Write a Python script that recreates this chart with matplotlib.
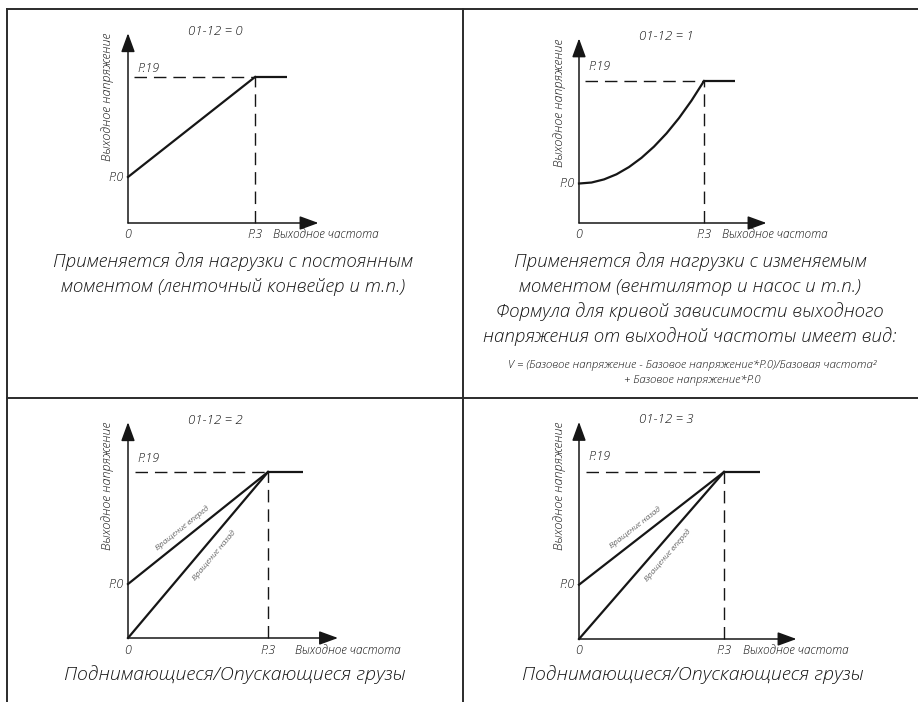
import matplotlib.pyplot as plt
from matplotlib.lines import Line2D

W, H = 918, 702

# values are normalised: frequency in units of P.3, voltage in units of P.19
titles = ['01-12 = 0', '01-12 = 1', '01-12 = 2', '01-12 = 3']
p0_levels = [0.315, 0.278, 0.325, 0.325]

# mode 1: square-law curve
sq_f = [0.0, 0.1, 0.2, 0.3, 0.4, 0.5, 0.6, 0.7, 0.8, 0.9, 1.0]
sq_v = [0.278, 0.285, 0.307, 0.343, 0.394, 0.459, 0.538, 0.631, 0.739, 0.862, 1.0]

# modes 2 and 3: labels on (boosted line, line through zero)
rot_labels = [None, None,
              ('Вращение вперед', 'Вращение назад'),
              ('Вращение назад', 'Вращение вперед')]

y_label = 'Выходное напряжение'
x_label = 'Выходное частота'

captions = [
    ['Применяется для нагрузки с постоянным',
     'моментом (ленточный конвейер и т.п.)'],
    ['Применяется для нагрузки с изменяемым',
     'моментом (вентилятор и насос и т.п.)',
     'Формула для кривой зависимости выходного',
     'напряжения от выходной частоты имеет вид:'],
    ['Поднимающиеся/Опускающиеся грузы'],
    ['Поднимающиеся/Опускающиеся грузы'],
]
formula = ['V = (Базовое напряжение - Базовое напряжение*P.0)/Базовая частота²',
           '+ Базовое напряжение*P.0']

# layout (pixels): axis origin and the (P.3, P.19) corner of every panel
origins = [(128, 223), (579, 223), (128, 638), (579, 639)]
corners = [(255, 77), (704, 81), (268, 472), (724, 472)]
caption_pos = [(233, 262), (690, 262), (235, 675), (693, 675)]
caption_size = [13.5, 13.5, 14, 14]
xlabel_gap = [18, 18, 27, 19]
p19_dy = [8, 15, 14, 15]

FONT = ['Open Sans', 'DejaVu Sans']
plt.rcParams['font.family'] = FONT
TXT = dict(style='italic', fontweight='light', color='#151515')
INK = '#161616'

fig = plt.figure(figsize=(W / 100, H / 100), dpi=100)

# frame lines
frame = [((7, 918), (9, 9)), ((7, 7), (9, 702)), ((463, 463), (9, 702)), ((7, 918), (398, 398))]
for xs, ys in frame:
    fig.add_artist(Line2D([x / W for x in xs], [1 - y / H for y in ys],
                          color='#2b2b2b', lw=1.4))

arrow = dict(arrowstyle='-|>,head_length=1.15,head_width=0.42', color=INK, lw=1.1,
             shrinkA=0, shrinkB=0, mutation_scale=10)

for i in range(4):
    (x0, y0), (x1, y1) = origins[i], corners[i]
    ax = fig.add_axes([x0 / W, 1 - y0 / H, (x1 - x0) / W, (y0 - y1) / H])
    ax.set_xlim(0, 1)
    ax.set_ylim(0, 1)
    ax.axis('off')
    p0 = p0_levels[i]

    # axes with arrows
    ax.annotate('', xy=(1.5, 0), xytext=(0, 0), arrowprops=arrow, annotation_clip=False)
    ax.annotate('', xy=(0, 1.3), xytext=(0, 0), arrowprops=arrow, annotation_clip=False)

    # dashed guides
    ax.plot([0.05, 1], [1, 1], color=INK, lw=1.0, ls=(0, (9, 5)), clip_on=False)
    ax.plot([1, 1], [0, 1], color=INK, lw=1.0, ls=(0, (9, 5)), clip_on=False)

    # characteristic
    ax.plot([1, 1.25], [1, 1], color=INK, lw=1.6, clip_on=False, solid_capstyle='butt')
    if i == 1:
        ax.plot(sq_f, sq_v, color=INK, lw=1.6, clip_on=False)
    else:
        ax.plot([0, 1], [p0, 1], color=INK, lw=1.6, clip_on=False)
    if i >= 2:
        ax.plot([0, 1], [0, 1], color=INK, lw=1.6, clip_on=False)
        up, low = rot_labels[i]
        ax.text(0.39, 0.665, up, rotation=34, transform_rotates_text=True,
                rotation_mode='anchor', ha='center', va='center', fontsize=6, **TXT)
        ax.text(0.615, 0.50, low, rotation=45, transform_rotates_text=True,
                rotation_mode='anchor', ha='center', va='center', fontsize=6, **TXT)

    # labels
    ax.annotate(titles[i], xy=(0, 1.3), xytext=(87, 2), textcoords='offset pixels',
                ha='center', va='center', fontsize=9.5, annotation_clip=False, **TXT)
    ax.annotate(y_label, xy=(0, 1.3), xytext=(-20, 0), textcoords='offset pixels',
                rotation=90, ha='center', va='top', fontsize=9, annotation_clip=False, **TXT)
    ax.annotate('P.19', xy=(0, 1), xytext=(9, p19_dy[i]), textcoords='offset pixels',
                ha='left', va='center', fontsize=9, annotation_clip=False, **TXT)
    ax.annotate('P.0', xy=(0, p0), xytext=(-4, 0), textcoords='offset pixels',
                ha='right', va='center', fontsize=9, annotation_clip=False, **TXT)
    ax.annotate('0', xy=(0, 0), xytext=(0, -12), textcoords='offset pixels',
                ha='center', va='center', fontsize=9, annotation_clip=False, **TXT)
    ax.annotate('P.3', xy=(1, 0), xytext=(0, -12), textcoords='offset pixels',
                ha='center', va='center', fontsize=9, annotation_clip=False, **TXT)
    ax.annotate(x_label, xy=(1, 0), xytext=(xlabel_gap[i], -12), textcoords='offset pixels',
                ha='left', va='center', fontsize=8.5, annotation_clip=False, **TXT)

    # caption under the panel
    cx, cy = caption_pos[i]
    for k, line in enumerate(captions[i]):
        fig.text(cx / W, 1 - (cy + 25 * k) / H, line, ha='center', va='center',
                 fontsize=caption_size[i], **TXT)

for k, line in enumerate(formula):
    fig.text(692 / W, 1 - (365 + 15 * k) / H, line, ha='center', va='center',
             fontsize=8.2, **TXT)

fig.savefig('out.png', dpi=100)
